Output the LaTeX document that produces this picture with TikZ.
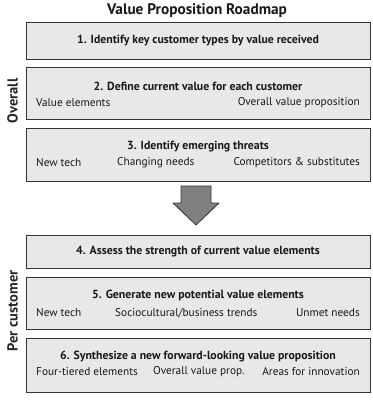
\documentclass[tikz,border=0pt]{standalone}
\usepackage{fontspec}
\setmainfont{PT Sans}
\begin{document}
\begin{tikzpicture}[x=1pt,y=-1pt,
  box/.style={draw=black!80, fill=black!9, line width=0.8pt, minimum width=344pt, inner sep=0pt},
  ttl/.style={font=\bfseries\fontsize{11.8}{13}\selectfont, inner sep=0pt, text=black!90},
  sub/.style={font=\fontsize{11.3}{13}\selectfont, inner sep=0pt, text=black!90},
  side/.style={font=\bfseries\fontsize{14.5}{16}\selectfont, inner sep=0pt, rotate=90, text=black!85},
  head/.style={font=\bfseries\fontsize{15.3}{17}\selectfont, inner sep=0pt, text=black!90},
  bigarrow/.style={draw=black!80, fill=black!50, line width=0.8pt, line join=round}]
\useasboundingbox (0,0) rectangle (373,400);
\node[head] (title) at (197,11) {Value Proposition Roadmap};

\node[box, minimum height=37pt] (b1) at (198,40.5) {};
\node[ttl] (t1) at (198,40.5) {1. Identify key customer types by value received};

\node[box, minimum height=52pt] (b2) at (198,93.5) {};
\node[ttl] (t2) at (198,86) {2. Define current value for each customer};
\node[sub, anchor=west] (s2a) at (36,103) {Value elements};
\node[sub, anchor=east] (s2b) at (360,103) {Overall value proposition};

\node[box, minimum height=53pt] (b3) at (198,154.5) {};
\node[ttl] (t3) at (198,147) {3. Identify emerging threats};
\node[sub, anchor=west] (s3a) at (36,163) {New tech};
\node[sub, anchor=west] (s3b) at (117,163) {Changing needs};
\node[sub, anchor=east] (s3c) at (360,163) {Competitors \& substitutes};

\draw[bigarrow] (181,186) -- (211,186) -- (211,203) -- (219,203) -- (196,225) -- (173,203) -- (181,203) -- cycle;

\node[box, minimum height=33pt] (b4) at (198,251.5) {};
\node[ttl] (t4) at (198,252) {4. Assess the strength of current value elements};

\node[box, minimum height=52pt] (b5) at (198,303) {};
\node[ttl] (t5) at (198,295) {5. Generate new potential value elements};
\node[sub, anchor=west] (s5a) at (36,313) {New tech};
\node[sub, anchor=west] (s5b) at (115,313) {Sociocultural/business trends};
\node[sub, anchor=east] (s5c) at (360,313) {Unmet needs};

\node[box, minimum height=54pt] (b6) at (198,365) {};
\node[ttl] (t6) at (198,357) {6. Synthesize a new forward-looking value proposition};
\node[sub, anchor=west] (s6a) at (36,372) {Four-tiered elements};
\node[sub, anchor=west] (s6b) at (153,372) {Overall value prop.};
\node[sub, anchor=east] (s6c) at (360,372) {Areas for innovation};

\node[side] (ov) at (12.5,101) {Overall};
\node[side] (pc) at (12.5,311) {Per customer};
\end{tikzpicture}
\end{document}
